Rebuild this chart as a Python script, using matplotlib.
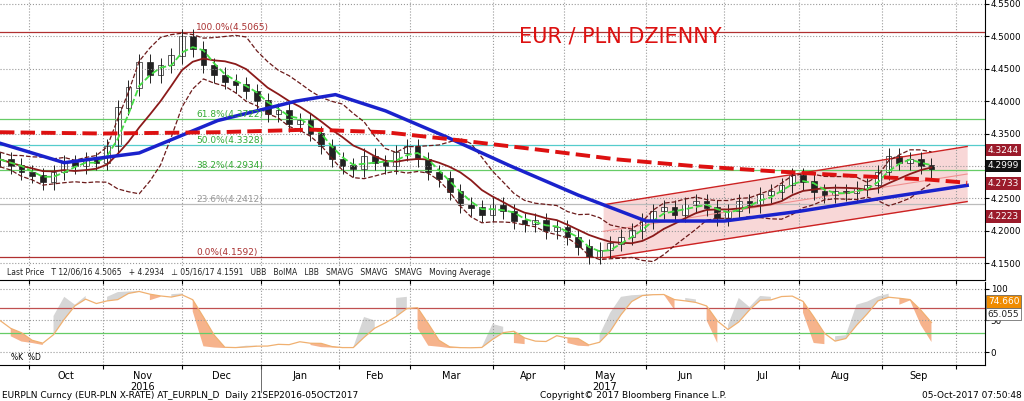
import numpy as np, pandas as pd
import matplotlib
matplotlib.use("Agg")
import matplotlib.pyplot as plt

closes = [4.310, 4.300, 4.290,
 4.285, 4.275, 4.290, 4.305, 4.300, 4.310, 4.305,
 4.330, 4.390, 4.420, 4.460, 4.440, 4.455, 4.470,
 4.500, 4.480, 4.455, 4.440, 4.430, 4.425, 4.415,
 4.400, 4.380, 4.385, 4.365, 4.370, 4.350, 4.330,
 4.310, 4.300, 4.295, 4.315, 4.305, 4.300, 4.320,
 4.330, 4.310, 4.290, 4.280, 4.260, 4.240, 4.235,
 4.225, 4.240, 4.230, 4.215, 4.210, 4.215, 4.200,
 4.205, 4.190, 4.175, 4.160, 4.170, 4.180, 4.190,
 4.200, 4.215, 4.230, 4.235, 4.225, 4.240, 4.245,
 4.235, 4.220, 4.230, 4.245, 4.240, 4.255, 4.260,
 4.270, 4.285, 4.275, 4.260, 4.255, 4.260, 4.258,
 4.265, 4.270, 4.290, 4.315, 4.305, 4.310, 4.300,
 4.2934]
months = ["Oct","Nov","Dec","Jan","Feb","Mar","Apr","May","Jun","Jul","Aug","Sep"]
month_starts = ["2016-10-01","2016-11-01","2016-12-01","2017-01-01","2017-02-01","2017-03-01",
                "2017-04-01","2017-05-01","2017-06-01","2017-07-01","2017-08-01","2017-09-01","2017-10-01"]
sma100_dates = ["2016-09-21","2016-10-15","2016-11-15","2016-12-15","2017-01-15","2017-01-31","2017-02-20",
                "2017-03-15","2017-04-10","2017-05-05","2017-06-01","2017-07-01","2017-08-01","2017-09-01","2017-10-05"]
sma100 = [4.335,4.305,4.32,4.37,4.40,4.41,4.385,4.345,4.30,4.255,4.215,4.215,4.23,4.25,4.27]
sma200_dates = ["2016-09-21","2016-11-01","2016-12-15","2017-01-20","2017-02-20","2017-03-20","2017-04-20",
                "2017-05-20","2017-06-20","2017-07-20","2017-08-20","2017-09-20","2017-10-05"]
sma200 = [4.352,4.350,4.352,4.356,4.352,4.340,4.325,4.310,4.300,4.292,4.285,4.279,4.274]
fib_pct = ["100.0%","61.8%","50.0%","38.2%","23.6%","0.0%"]
fib_val = [4.5065,4.3722,4.3328,4.2934,4.2412,4.1592]
chan_dates = ["2017-05-16","2017-10-05"]
chan_low = [4.158,4.245]
chan_high = [4.240,4.330]
right_labels = [4.3244,4.2999,4.2733,4.2223]

bd = pd.bdate_range("2016-09-21","2017-10-10")
def idx(d): return bd.searchsorted(pd.Timestamp(d))
xs = np.arange(len(closes))*3
s = pd.Series(closes)
bolma = s.rolling(7, min_periods=1).mean()
sd = s.rolling(7, min_periods=2).std().bfill()
ub, lb = bolma+1.6*sd, bolma-1.6*sd
fast = s.rolling(3, min_periods=1).mean()
lo, hi = s.rolling(5, min_periods=1).min()-0.005, s.rolling(5, min_periods=1).max()+0.005
K = (s-lo)/(hi-lo)*100
D = K.rolling(3, min_periods=1).mean()

fig = plt.figure(figsize=(10.24,4.01), dpi=100)
W,H=1024,401
ax = fig.add_axes([0, 1-280/H, 985/W, 280/H])
ax2 = fig.add_axes([0, 1-365/H, 985/W, 83/H])
for a in (ax,ax2):
    a.set_xlim(0,276)
    a.yaxis.tick_right()
    a.grid(True, ls=':', color='#999999', lw=0.8)
    for sp in ["top","left"]: a.spines[sp].set_visible(False)
    a.tick_params(labelsize=6.3, length=3, pad=1, direction='out')
ax.set_ylim(4.124,4.556)
ax.set_yticks(np.arange(4.15,4.551,0.05))
ax.set_yticklabels([f"{v:.4f}" for v in np.arange(4.15,4.551,0.05)])
ms = [idx(m) for m in month_starts]
for a in (ax,ax2):
    a.set_xticks(ms); a.set_xticklabels([])
ax2.set_ylim(-20.6,111); ax2.set_yticks([0,50,100])

fcol = ['#b03030','#66cc66','#55cccc','#66cc66','#bbbbbb','#b03030']
for p,v,c in zip(fib_pct,fib_val,fcol):
    ax.axhline(v,color=c,lw=0.9)
    ax.text(55,v,f"{p}({v:.4f})",fontsize=6.5,color='#aa3333' if c=='#b03030' else ('#999999' if c=='#bbbbbb' else '#33aa33'),va='bottom')
cx=[idx(d) for d in chan_dates]
ax.fill_between(cx,chan_low,chan_high,color='#f6c6c6',alpha=0.7,lw=0)
ax.plot(cx,chan_low,color='#cc2222',lw=1); ax.plot(cx,chan_high,color='#cc2222',lw=1)
ax.plot(cx,[(a+b)/2 for a,b in zip(chan_low,chan_high)],color='#f09090',lw=0.8)
prev = [closes[0]]+closes[:-1]
for x,o,c in zip(xs,prev,closes):
    ax.vlines(x,min(o,c)-0.012,max(o,c)+0.012,color='#222222',lw=0.7)
    ax.bar(x,abs(c-o)+0.001,bottom=min(o,c),width=1.6,color='#222222' if c<o else 'white',edgecolor='#222222',lw=0.5)
ax.plot(xs,ub,'--',color='#6b1a1a',lw=0.9); ax.plot(xs,lb,'--',color='#6b1a1a',lw=0.9)
ax.plot(xs,bolma,color='#8b1a1a',lw=1.3)
ax.plot(xs,fast,'--',color='#44dd44',lw=1.3)
ax.plot([idx(d) for d in sma100_dates],sma100,color='#1a22cc',lw=2.5)
ax.plot([idx(d) for d in sma200_dates],sma200,'--',color='#dd1111',lw=2.8)
ax.text(620/985*276,4.49,"EUR / PLN DZIENNY",color='#dd1111',fontsize=15,ha='center')
cols=['#9b1b2b','#111111','#9b1b2b','#9b1b2b']
for v,c in zip(right_labels,cols):
    ax.annotate(f"{v:.4f}",(1,v),xycoords=('axes fraction','data'),xytext=(2,0),textcoords='offset points',
                fontsize=6.5,color='white',va='center',bbox=dict(boxstyle='square,pad=0.2',fc=c,ec='none'),annotation_clip=False)
ax.text(2,4.128,"Last Price   T 12/06/16 4.5065   + 4.2934   ⊥ 05/16/17 4.1591   UBB   BolMA   LBB   SMAVG   SMAVG   SMAVG   Moving Average",
        fontsize=5.5,color='#222222',va='bottom',bbox=dict(fc='white',ec='none',pad=1))
ax.set_zorder(1)
ax2.axhline(70,color='#c05050',lw=0.9); ax2.axhline(30,color='#66cc66',lw=0.9)
ax2.fill_between(xs,K,D,color='#cccccc',where=K>=D,lw=0,alpha=0.8)
ax2.fill_between(xs,K,D,color='#f4a070',where=K<D,lw=0,alpha=0.8)
ax2.plot(xs,D,color='#f0b070',lw=0.9)
ax2.text(3,-12,"%K  %D",fontsize=5.5)
for v,t,c,tc in [(80,"74.660",'#f08c00','white'),(60,"65.055",'white','#222222')]:
    ax2.annotate(t,(1,v),xycoords=('axes fraction','data'),xytext=(2,0),textcoords='offset points',
                 fontsize=6.5,color=tc,va='center',bbox=dict(boxstyle='square,pad=0.2',fc=c,ec='#555555',lw=0.5),annotation_clip=False)
for i,m in enumerate(months):
    xm=(ms[i]+ms[i+1])/2
    fig.text(xm/276*985/W,1-376/H,m,fontsize=7,ha='center',va='center')
fig.text(((ms[1]+ms[2])/2)/276*985/W,1-387/H,"2016",fontsize=7,ha='center',va='center')
fig.text(((ms[7]+ms[8])/2)/276*985/W,1-387/H,"2017",fontsize=7,ha='center',va='center')
fig.add_artist(plt.Line2D([ms[3]/276*985/W]*2,[1-392/H,1-366/H],color='#555555',lw=0.6))
fig.text(0.002,1-395/H,"EURPLN Curncy (EUR-PLN X-RATE) AT_EURPLN_D  Daily 21SEP2016-05OCT2017",fontsize=6.5,va='center')
fig.text(540/W,1-395/H,"Copyright© 2017 Bloomberg Finance L.P.",fontsize=6.5,va='center')
fig.text(0.998,1-395/H,"05-Oct-2017 07:50:48",fontsize=6.5,va='center',ha='right')
fig.savefig("out.png",dpi=100)
